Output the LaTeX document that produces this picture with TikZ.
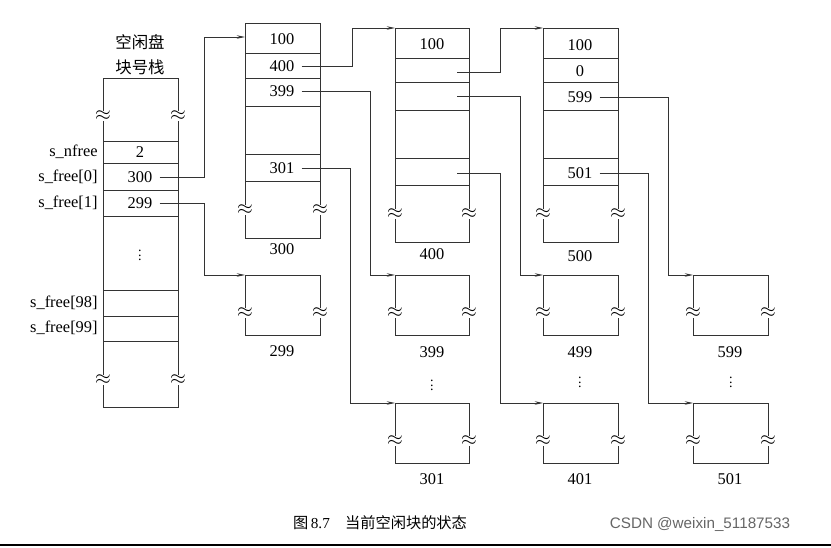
\documentclass[tikz,border=0pt]{standalone}
\usepackage{fontspec}
\setmainfont{Liberation Serif}
\newfontfamily\cjk{Noto Sans CJK SC}
\newfontfamily\wmfont{Liberation Sans}
\usetikzlibrary{calc, positioning, arrows.meta}
\tikzset{
    val/.style={font=\fontsize{14}{16}\selectfont, inner sep=1pt},
    side/.style={font=\fontsize{14}{16}\selectfont, anchor=east, inner sep=1pt},
    headtxt/.style={font=\fontsize{14}{16}\selectfont\cjk, inner sep=1pt},
    wave/.style={fill=white, inner sep=0pt, font=\fontsize{17}{17}\selectfont},
    frame/.style={draw=black!80, line width=0.8pt},
    link/.style={-{Stealth[length=7pt, width=3pt]}, draw=black!80, line width=0.7pt},
    vdots/.style={font=\fontsize{12}{12}\selectfont, inner sep=0pt}
}
% block with rows: x0, x1, top, bottom, list of row lines
\newcommand{\blk}[5]{%
    \draw[frame] (#1,#3) rectangle (#2,#4);
    \foreach \r in {#5} {\draw[frame] (#1,\r) -- (#2,\r);}
}
\newcommand{\waves}[3]{%
    \node[wave] at (#1,#3) {$\approx$};
    \node[wave] at (#2,#3) {$\approx$};
}
\begin{document}
\begin{tikzpicture}[x=0.03cm, y=-0.03cm]
    \useasboundingbox (0,0) rectangle (831,547);
    \fill[white] (0,0) rectangle (831,547);

    % Stack
    \node[headtxt] (title1) at (140,42) {空闲盘};
    \node[headtxt] (title2) at (140,67) {块号栈};
    \blk{103}{178}{78}{407}{141,163,190,216,290,316,341}
    \waves{103}{178}{116}
    \waves{103}{178}{380}
    \node[val] (snf) at (140,152) {2};
    \node[val] (s300) at (140,177) {300};
    \node[val] (s299) at (140,203) {299};
    \node[vdots] (sdots) at (140,252) {$\vdots$};
    \node[side] (lnf) at (99,152) {s\_nfree};
    \node[side] (l0) at (99,177) {s\_free[0]};
    \node[side] (l1) at (99,203) {s\_free[1]};
    \node[side] (l98) at (99,303) {s\_free[98]};
    \node[side] (l99) at (99,328) {s\_free[99]};

    % Block 300
    \blk{245}{320}{23}{238}{53,78,106,154,181}
    \waves{245}{320}{210}
    \node[val] (a100) at (282,39) {100};
    \node[val] (a400) at (282,66) {400};
    \node[val] (a399) at (282,91) {399};
    \node[val] (a301) at (282,168) {301};
    \node[val] (n300) at (282,249) {300};

    % Block 400
    \blk{395}{469}{28}{242}{58,82,110,158,185}
    \waves{395}{469}{214}
    \node[val] (b100) at (432,44) {100};
    \coordinate (b2) at (457,72);
    \coordinate (b3) at (457,96);
    \coordinate (b5) at (457,173);
    \node[val] (n400) at (432,254) {400};

    % Block 500
    \blk{543}{618}{28}{242}{58,82,110,158,185}
    \waves{543}{618}{214}
    \node[val] (c100) at (580,45) {100};
    \node[val] (c0) at (580,71) {0};
    \node[val] (c599) at (580,97) {599};
    \node[val] (c501) at (580,173) {501};
    \node[val] (n500) at (580,256) {500};

    % Single blocks
    \blk{245}{320}{275}{335}{}
    \waves{245}{320}{313}
    \node[val] (n299) at (282,351) {299};
    \blk{395}{469}{275}{335}{}
    \waves{395}{469}{313}
    \node[val] (n399) at (432,352) {399};
    \blk{395}{469}{403}{463}{}
    \waves{395}{469}{441}
    \node[val] (n301) at (432,479) {301};
    \blk{543}{618}{275}{335}{}
    \waves{543}{618}{313}
    \node[val] (n499) at (580,352) {499};
    \blk{543}{618}{403}{463}{}
    \waves{543}{618}{441}
    \node[val] (n401) at (580,479) {401};
    \blk{693}{768}{275}{335}{}
    \waves{693}{768}{313}
    \node[val] (n599) at (730,352) {599};
    \blk{693}{768}{403}{463}{}
    \waves{693}{768}{441}
    \node[val] (n501) at (730,479) {501};
    \node[vdots] (d1) at (432,382) {$\vdots$};
    \node[vdots] (d2) at (580,379) {$\vdots$};
    \node[vdots] (d3) at (731,379) {$\vdots$};

    % Targets
    \coordinate (t300) at (245,37);
    \coordinate (t400) at (395,28);
    \coordinate (t500) at (543,28);
    \coordinate (t299) at (245,275);
    \coordinate (t399) at (395,275);
    \coordinate (t301) at (395,403);
    \coordinate (t499) at (543,275);
    \coordinate (t401) at (543,403);
    \coordinate (t599) at (693,275);
    \coordinate (t501) at (693,403);

    % Links
    \draw[link] ([xshift=5pt]s300.east) -| (204,37) -- (t300);
    \draw[link] ([xshift=5pt]s299.east) -| (204,275) -- (t299);
    \draw[link] ([xshift=5pt]a400.east) -| (352,28) -- (t400);
    \draw[link] ([xshift=5pt]a399.east) -| (370,275) -- (t399);
    \draw[link] ([xshift=5pt]a301.east) -| (350,403) -- (t301);
    \draw[link] (b2) -| (500,28) -- (t500);
    \draw[link] (b3) -| (520,275) -- (t499);
    \draw[link] (b5) -| (500,403) -- (t401);
    \draw[link] ([xshift=5pt]c599.east) -| (668,275) -- (t599);
    \draw[link] ([xshift=5pt]c501.east) -| (648,403) -- (t501);

    % Caption
    \node[font=\fontsize{13}{15}\selectfont] (figcap) at (380,523) {{\cjk 图}\,8.7\quad {\cjk 当前空闲块的状态}};
    \node[font=\fontsize{13}{15}\selectfont\wmfont, text=black!60] (mark) at (700,524) {CSDN @weixin\_51187533};
    \draw[line width=2pt] (0,545) -- (831,545);
\end{tikzpicture}
\end{document}
